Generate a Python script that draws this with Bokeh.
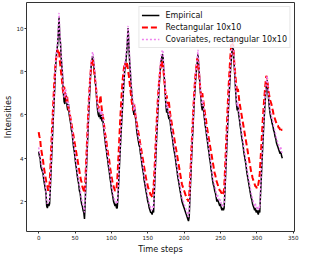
from bokeh.plotting import figure
from bokeh.models import Range1d, FixedTicker, Legend, LegendItem
from bokeh.embed import file_html
from bokeh.resources import INLINE

empirical = [
    4.3, 4.1, 4.0, 3.6, 3.5, 3.4, 3.3, 3.0, 2.8, 2.6, 2.4, 1.8, 1.7, 1.9, 1.8, 1.9, 2.6, 3.4, 4.2, 5.0, 5.8, 6.5, 7.2, 8.0, 8.6, 9.0, 9.2, 9.8, 10.5,
    9.6, 9.3, 8.6, 8.2, 7.7, 7.0, 6.6, 6.5, 7.0, 6.8, 6.4, 6.2, 6.5, 6.0, 5.8, 5.6, 5.3, 5.2, 4.8, 4.5, 4.3, 4.0, 3.7, 3.5, 3.2, 3.0, 2.8, 2.5, 2.4, 2.1, 1.9, 1.8, 1.6, 1.5, 1.2,
    2.0, 2.9, 3.8, 4.6, 5.4, 6.2, 6.9, 7.6, 8.2, 8.4, 8.7, 8.6,
    8.2, 7.9, 7.5, 7.1, 6.6, 6.2, 6.0, 5.9, 6.1, 5.8, 6.0, 5.7, 5.9, 5.5, 5.2, 4.9, 4.6, 4.4, 4.1, 3.9, 3.6, 3.4, 3.1, 2.9, 2.6, 2.4, 2.2, 2.0, 1.9, 1.8, 1.9, 1.7,
    1.7, 2.2, 2.9, 3.6, 4.3, 5.0, 5.6, 6.2, 6.8, 7.4, 7.9, 8.3, 8.5, 8.9, 9.4, 10.0,
    9.2, 8.5, 8.0, 7.4, 7.0, 6.6, 6.2, 6.0, 6.3, 5.9, 5.6, 5.2, 5.0, 4.8, 4.6, 4.5, 4.2, 4.0, 3.7, 3.5, 3.3, 3.0, 2.8, 2.6, 2.4, 2.2, 2.0, 1.9, 1.7, 1.6, 1.5, 1.5, 1.4, 1.6, 1.5,
    2.4, 3.2, 4.0, 4.8, 5.5, 6.2, 6.9, 7.5, 8.0, 8.4, 8.6, 8.8, 8.7,
    8.0, 7.6, 7.0, 6.4, 6.1, 6.3, 6.0, 5.8, 5.9, 5.6, 5.3, 5.1, 4.9, 4.6, 4.4, 4.2, 4.0, 3.7, 3.5, 3.2, 3.0, 2.8, 2.6, 2.4, 2.2, 2.0, 1.9, 1.8, 1.7, 1.6, 1.5, 1.4, 1.3, 1.2, 1.1, 1.3,
    2.2, 3.0, 3.8, 4.6, 5.3, 6.0, 6.7, 7.2, 7.7, 8.1, 8.4, 8.8,
    8.3, 7.8, 7.2, 6.8, 6.4, 6.2, 6.5, 6.1, 5.8, 5.5, 5.3, 5.0, 4.8, 4.5, 4.3, 4.0, 3.8, 3.5, 3.3, 3.0, 2.8, 2.7, 2.5, 2.4, 2.2, 2.0, 2.1, 2.0, 1.9, 1.8, 1.9, 1.7, 1.6, 1.7, 1.6, 1.7,
    2.4, 3.2, 4.0, 4.8, 5.6, 6.3, 7.0, 7.6, 8.2, 8.6, 9.0, 9.4,
    8.8, 8.2, 7.6, 7.0, 6.5, 6.2, 6.4, 6.0, 5.8, 5.5, 5.3, 5.0, 4.8, 4.6, 4.3, 4.1, 3.9, 3.7, 3.4, 3.2, 3.0, 2.8, 2.6, 2.4, 2.2, 2.1, 1.9, 1.8, 1.7, 1.6, 1.7, 1.5, 1.6, 1.5, 1.4, 1.6, 1.5,
    2.3, 3.0, 3.8, 4.5, 5.2, 5.8, 6.4, 6.9, 7.3, 7.6,
    7.2, 6.8, 6.4, 6.1, 5.9, 5.8, 5.6, 5.5, 5.3, 5.2, 5.0, 4.9, 4.7, 4.6, 4.5, 4.4, 4.3, 4.2, 4.3, 4.1, 4.0,
]

rectangular = [
    5.2, 5.0, 4.9, 4.5, 4.3, 4.1, 3.9, 3.6, 3.4, 3.2, 3.0, 2.8, 2.7, 2.5, 2.6, 2.8,
    3.5, 4.3, 5.1, 5.8, 6.5, 7.2, 7.8, 8.3, 8.6, 8.8, 9.0, 8.8, 8.9,
    8.5, 8.2, 7.9, 7.6, 7.2, 7.0, 7.3, 7.1, 6.8, 6.6, 6.9, 6.5, 6.3, 6.2, 6.0, 5.8, 5.6, 5.4, 5.2, 5.0, 4.8, 4.6, 4.4, 4.2, 4.0, 3.8, 3.6, 3.4, 3.2, 3.0, 2.9, 2.7, 2.6, 2.5, 2.4,
    2.9, 3.6, 4.4, 5.2, 6.0, 6.7, 7.3, 7.8, 8.2, 8.5, 8.6, 8.4,
    8.1, 7.8, 7.5, 7.2, 6.8, 6.5, 6.3, 6.4, 6.6, 6.9, 6.5, 6.2, 6.0, 5.8, 5.5, 5.2, 5.0, 4.8, 4.5, 4.3, 4.1, 3.9, 3.6, 3.4, 3.2, 3.0, 2.8, 2.7, 2.6, 2.5, 2.5, 2.6,
    3.0, 3.6, 4.3, 5.0, 5.7, 6.3, 6.9, 7.4, 7.8, 8.1, 8.3, 8.4, 8.2, 8.4, 8.3, 8.0,
    7.8, 7.5, 7.2, 6.9, 6.6, 6.4, 6.2, 6.5, 6.3, 6.0, 5.8, 5.6, 5.4, 5.2, 5.0, 4.8, 4.6, 4.4, 4.2, 4.0, 3.8, 3.6, 3.4, 3.2, 3.0, 2.9, 2.7, 2.6, 2.5, 2.4, 2.3, 2.3, 2.2, 2.4, 2.7,
    3.3, 4.0, 4.8, 5.5, 6.2, 6.8, 7.3, 7.7, 8.0, 8.3, 8.5, 8.4, 8.2,
    7.9, 7.5, 7.1, 6.8, 6.9, 6.6, 6.4, 6.6, 6.3, 6.0, 5.8, 5.6, 5.4, 5.2, 5.0, 4.8, 4.6, 4.4, 4.2, 4.0, 3.8, 3.6, 3.4, 3.2, 3.0, 2.8, 2.7, 2.6, 2.5, 2.4, 2.3, 2.2, 2.1, 2.1, 2.0, 2.3,
    2.9, 3.6, 4.4, 5.1, 5.8, 6.5, 7.1, 7.6, 8.0, 8.3, 8.6, 8.5,
    8.1, 7.7, 7.3, 7.0, 6.8, 7.0, 6.7, 6.5, 6.2, 6.0, 5.8, 5.5, 5.3, 5.1, 4.9, 4.7, 4.5, 4.3, 4.1, 3.9, 3.7, 3.5, 3.3, 3.2, 3.0, 2.9, 2.8, 2.7, 2.6, 2.5, 2.5, 2.4, 2.4, 2.3, 2.4, 2.6,
    3.3, 4.1, 4.9, 5.7, 6.5, 7.2, 7.8, 8.4, 8.9, 9.3, 9.6, 9.4,
    8.9, 8.4, 8.0, 7.6, 7.3, 7.0, 7.2, 6.9, 6.6, 6.4, 6.2, 6.0, 5.8, 5.6, 5.4, 5.2, 5.0, 4.8, 4.6, 4.4, 4.2, 4.0, 3.8, 3.6, 3.4, 3.3, 3.1, 3.0, 2.9, 2.8, 2.7, 2.7, 2.6, 2.7, 2.8, 3.0, 3.3,
    3.9, 4.5, 5.1, 5.7, 6.2, 6.7, 7.1, 7.5, 7.8, 7.7,
    7.4, 7.1, 6.9, 6.7, 6.6, 6.5, 6.3, 6.2, 6.0, 5.9, 5.8, 5.7, 5.6, 5.5, 5.5, 5.4, 5.4, 5.3, 5.4, 5.3, 5.3,
]

covariates = [
    4.5, 4.3, 4.1, 3.8, 3.7, 3.6, 3.4, 3.2, 3.0, 2.8, 2.5, 2.0, 1.9, 2.0, 2.0, 2.1, 2.8, 3.6, 4.4, 5.2, 6.0, 6.7, 7.4, 8.1, 8.7, 9.1, 9.4, 10.0, 10.7,
    9.8, 9.4, 8.8, 8.4, 7.9, 7.2, 6.8, 6.8, 7.2, 7.0, 6.6, 6.4, 6.6, 6.2, 6.0, 5.8, 5.5, 5.4, 5.0, 4.7, 4.5, 4.2, 3.9, 3.7, 3.4, 3.2, 3.0, 2.7, 2.6, 2.3, 2.1, 2.0, 1.8, 1.7, 1.5,
    2.2, 3.1, 4.0, 4.8, 5.6, 6.4, 7.1, 7.8, 8.4, 8.6, 8.9, 8.8,
    8.4, 8.1, 7.7, 7.3, 6.8, 6.4, 6.2, 6.1, 6.3, 6.0, 6.2, 5.9, 6.1, 5.7, 5.4, 5.1, 4.8, 4.6, 4.3, 4.1, 3.8, 3.6, 3.3, 3.1, 2.8, 2.6, 2.4, 2.2, 2.1, 2.0, 2.0, 1.9,
    1.9, 2.4, 3.1, 3.8, 4.5, 5.2, 5.8, 6.4, 7.0, 7.6, 8.1, 8.5, 8.7, 9.1, 9.6, 10.1,
    9.4, 8.7, 8.2, 7.6, 7.2, 6.8, 6.4, 6.2, 6.5, 6.1, 5.8, 5.4, 5.2, 5.0, 4.8, 4.7, 4.4, 4.2, 3.9, 3.7, 3.5, 3.2, 3.0, 2.8, 2.6, 2.4, 2.2, 2.1, 1.9, 1.8, 1.7, 1.7, 1.6, 1.8, 1.7,
    2.6, 3.4, 4.2, 5.0, 5.7, 6.4, 7.1, 7.7, 8.2, 8.6, 8.8, 9.0, 8.9,
    8.2, 7.8, 7.2, 6.6, 6.3, 6.5, 6.2, 6.0, 6.1, 5.8, 5.5, 5.3, 5.1, 4.8, 4.6, 4.4, 4.2, 3.9, 3.7, 3.4, 3.2, 3.0, 2.8, 2.6, 2.4, 2.2, 2.1, 2.0, 1.9, 1.8, 1.7, 1.6, 1.5, 1.4, 1.3, 1.5,
    2.4, 3.2, 4.0, 4.8, 5.5, 6.2, 6.9, 7.4, 7.9, 8.3, 8.6, 9.0,
    8.5, 8.0, 7.4, 7.0, 6.6, 6.4, 6.7, 6.3, 6.0, 5.7, 5.5, 5.2, 5.0, 4.7, 4.5, 4.2, 4.0, 3.7, 3.5, 3.2, 3.0, 2.9, 2.7, 2.6, 2.4, 2.2, 2.3, 2.2, 2.1, 2.0, 2.1, 1.9, 1.8, 1.9, 1.8, 1.9,
    2.6, 3.4, 4.2, 5.0, 5.8, 6.5, 7.2, 7.8, 8.4, 8.8, 9.2, 9.6,
    9.0, 8.4, 7.8, 7.2, 6.7, 6.4, 6.6, 6.2, 6.0, 5.7, 5.5, 5.2, 5.0, 4.8, 4.5, 4.3, 4.1, 3.9, 3.6, 3.4, 3.2, 3.0, 2.8, 2.6, 2.4, 2.3, 2.1, 2.0, 1.9, 1.8, 1.9, 1.7, 1.8, 1.7, 1.6, 1.8, 1.7,
    2.5, 3.2, 4.0, 4.7, 5.4, 6.0, 6.6, 7.1, 7.5, 7.8,
    7.4, 7.0, 6.6, 6.3, 6.1, 6.0, 5.8, 5.7, 5.5, 5.4, 5.2, 5.1, 4.9, 4.8, 4.7, 4.6, 4.5, 4.4, 4.5, 4.3, 4.2,
]

series_labels = ["Empirical", "Rectangular 10x10", "Covariates, rectangular 10x10"]
x_ticks = [0, 50, 100, 150, 200, 250, 300, 350]
y_ticks = [2, 4, 6, 8, 10]

t_emp = list(range(len(empirical)))
t_rect = list(range(len(rectangular)))
t_cov = list(range(len(covariates)))

p = figure(width=302, height=256, output_backend="svg", toolbar_location=None,
           x_range=Range1d(-16.75, 351.75), y_range=Range1d(0.62, 11.18),
           min_border_left=18, min_border_right=8, min_border_top=2, min_border_bottom=22)
p.background_fill_color = "white"
p.border_fill_color = "white"
p.xgrid.visible = False
p.ygrid.visible = False
p.outline_line_color = "#333333"
p.outline_line_width = 1
p.outline_line_alpha = 1

r1 = p.line(t_emp, empirical, line_color="black", line_width=1.5)
r2 = p.line(t_rect, rectangular, line_color="#ff0000", line_width=2, line_dash="6 3")
r3 = p.line(t_cov, covariates, line_color="#ee82ee", line_width=1.5, line_dash="2 2")

for ax in (p.xaxis[0], p.yaxis[0]):
    ax.axis_line_color = None
    ax.major_tick_line_color = "#333333"
    ax.major_tick_out = 2
    ax.major_tick_in = 0
    ax.minor_tick_line_color = None
    ax.major_label_text_font = "DejaVu Sans"
    ax.major_label_text_font_size = "5.6px"
    ax.major_label_text_color = "#222222"
    ax.axis_label_text_font = "DejaVu Sans"
    ax.axis_label_text_font_size = "8.2px"
    ax.axis_label_text_font_style = "normal"
    ax.axis_label_text_color = "#111111"
    ax.major_label_standoff = 1
    ax.axis_label_standoff = 1

p.xaxis[0].ticker = FixedTicker(ticks=x_ticks)
p.yaxis[0].ticker = FixedTicker(ticks=y_ticks)
p.xaxis[0].axis_label = "Time steps"
p.yaxis[0].axis_label = "Intensities"
p.yaxis[0].axis_label_standoff = 0

legend = Legend(items=[LegendItem(label=series_labels[0], renderers=[r1]),
                       LegendItem(label=series_labels[1], renderers=[r2]),
                       LegendItem(label=series_labels[2], renderers=[r3])],
                location="top_right")
legend.margin = 4
legend.padding = 2
legend.spacing = 0
legend.glyph_width = 18
legend.glyph_height = 12
legend.label_height = 12
legend.label_standoff = 6
legend.label_text_font = "DejaVu Sans"
legend.label_text_font_size = "8px"
legend.label_text_color = "#111111"
legend.border_line_color = "#d0d0d0"
legend.border_line_width = 1
legend.background_fill_color = "white"
legend.background_fill_alpha = 0.8
p.add_layout(legend)

open("out.html", "w").write(file_html(p, INLINE))
